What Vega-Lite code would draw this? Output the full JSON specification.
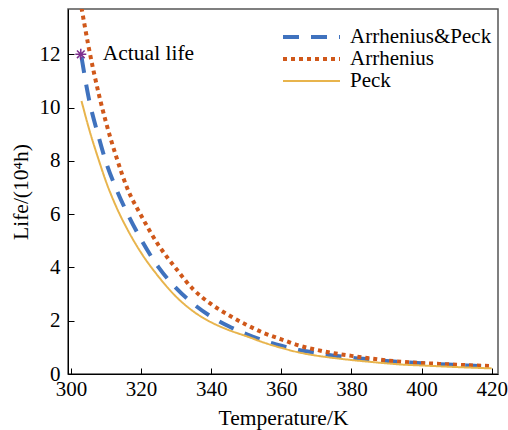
{
  "$schema": "https://vega.github.io/schema/vega-lite/v6.json",
  "autosize": "none",
  "width": 430,
  "height": 365,
  "padding": {"left": 68, "top": 9, "right": 10, "bottom": 56},
  "background": "white",
  "config": {
    "view": {"stroke": "#555555", "strokeWidth": 1.5},
    "axis": {
      "labelFont": "Liberation Serif", "labelFontSize": 21, "labelColor": "black",
      "titleFont": "Liberation Serif", "titleFontSize": 21.5, "titleFontWeight": "normal", "titleColor": "black",
      "domainColor": "black", "tickColor": "black", "grid": false, "tickSize": -6
    },
    "legend": {
      "labelFont": "Liberation Serif", "labelFontSize": 21, "labelColor": "black"
    }
  },
  "datasets": {
    "curves": [
      {"T": 303, "life": 11.9, "model": "Arrhenius&Peck"},
      {"T": 305, "life": 10.4, "model": "Arrhenius&Peck"},
      {"T": 308, "life": 8.85, "model": "Arrhenius&Peck"},
      {"T": 310, "life": 7.95, "model": "Arrhenius&Peck"},
      {"T": 313, "life": 6.92, "model": "Arrhenius&Peck"},
      {"T": 316, "life": 6.05, "model": "Arrhenius&Peck"},
      {"T": 320, "life": 5.05, "model": "Arrhenius&Peck"},
      {"T": 325, "life": 4.0, "model": "Arrhenius&Peck"},
      {"T": 330, "life": 3.22, "model": "Arrhenius&Peck"},
      {"T": 335, "life": 2.62, "model": "Arrhenius&Peck"},
      {"T": 340, "life": 2.15, "model": "Arrhenius&Peck"},
      {"T": 345, "life": 1.79, "model": "Arrhenius&Peck"},
      {"T": 350, "life": 1.5, "model": "Arrhenius&Peck"},
      {"T": 355, "life": 1.25, "model": "Arrhenius&Peck"},
      {"T": 360, "life": 1.06, "model": "Arrhenius&Peck"},
      {"T": 365, "life": 0.9, "model": "Arrhenius&Peck"},
      {"T": 370, "life": 0.79, "model": "Arrhenius&Peck"},
      {"T": 375, "life": 0.69, "model": "Arrhenius&Peck"},
      {"T": 380, "life": 0.61, "model": "Arrhenius&Peck"},
      {"T": 385, "life": 0.55, "model": "Arrhenius&Peck"},
      {"T": 390, "life": 0.49, "model": "Arrhenius&Peck"},
      {"T": 395, "life": 0.44, "model": "Arrhenius&Peck"},
      {"T": 400, "life": 0.4, "model": "Arrhenius&Peck"},
      {"T": 405, "life": 0.37, "model": "Arrhenius&Peck"},
      {"T": 410, "life": 0.34, "model": "Arrhenius&Peck"},
      {"T": 415, "life": 0.31, "model": "Arrhenius&Peck"},
      {"T": 420, "life": 0.28, "model": "Arrhenius&Peck"},
      {"T": 303, "life": 13.75, "model": "Arrhenius"},
      {"T": 305, "life": 12.3, "model": "Arrhenius"},
      {"T": 308, "life": 10.47, "model": "Arrhenius"},
      {"T": 310, "life": 9.44, "model": "Arrhenius"},
      {"T": 313, "life": 8.12, "model": "Arrhenius"},
      {"T": 316, "life": 6.99, "model": "Arrhenius"},
      {"T": 320, "life": 5.95, "model": "Arrhenius"},
      {"T": 325, "life": 4.83, "model": "Arrhenius"},
      {"T": 330, "life": 3.95, "model": "Arrhenius"},
      {"T": 335, "life": 3.16, "model": "Arrhenius"},
      {"T": 340, "life": 2.62, "model": "Arrhenius"},
      {"T": 345, "life": 2.21, "model": "Arrhenius"},
      {"T": 350, "life": 1.85, "model": "Arrhenius"},
      {"T": 355, "life": 1.54, "model": "Arrhenius"},
      {"T": 360, "life": 1.3, "model": "Arrhenius"},
      {"T": 365, "life": 1.07, "model": "Arrhenius"},
      {"T": 370, "life": 0.91, "model": "Arrhenius"},
      {"T": 375, "life": 0.78, "model": "Arrhenius"},
      {"T": 380, "life": 0.68, "model": "Arrhenius"},
      {"T": 385, "life": 0.59, "model": "Arrhenius"},
      {"T": 390, "life": 0.51, "model": "Arrhenius"},
      {"T": 395, "life": 0.45, "model": "Arrhenius"},
      {"T": 400, "life": 0.41, "model": "Arrhenius"},
      {"T": 405, "life": 0.38, "model": "Arrhenius"},
      {"T": 410, "life": 0.35, "model": "Arrhenius"},
      {"T": 415, "life": 0.32, "model": "Arrhenius"},
      {"T": 420, "life": 0.3, "model": "Arrhenius"},
      {"T": 303, "life": 10.25, "model": "Peck"},
      {"T": 305, "life": 9.27, "model": "Peck"},
      {"T": 308, "life": 8.0, "model": "Peck"},
      {"T": 310, "life": 7.22, "model": "Peck"},
      {"T": 313, "life": 6.25, "model": "Peck"},
      {"T": 316, "life": 5.45, "model": "Peck"},
      {"T": 320, "life": 4.55, "model": "Peck"},
      {"T": 325, "life": 3.65, "model": "Peck"},
      {"T": 330, "life": 2.9, "model": "Peck"},
      {"T": 335, "life": 2.34, "model": "Peck"},
      {"T": 340, "life": 1.94, "model": "Peck"},
      {"T": 345, "life": 1.65, "model": "Peck"},
      {"T": 350, "life": 1.42, "model": "Peck"},
      {"T": 355, "life": 1.18, "model": "Peck"},
      {"T": 360, "life": 0.98, "model": "Peck"},
      {"T": 365, "life": 0.81, "model": "Peck"},
      {"T": 370, "life": 0.69, "model": "Peck"},
      {"T": 375, "life": 0.6, "model": "Peck"},
      {"T": 380, "life": 0.525, "model": "Peck"},
      {"T": 385, "life": 0.46, "model": "Peck"},
      {"T": 390, "life": 0.4, "model": "Peck"},
      {"T": 395, "life": 0.35, "model": "Peck"},
      {"T": 400, "life": 0.32, "model": "Peck"},
      {"T": 405, "life": 0.29, "model": "Peck"},
      {"T": 410, "life": 0.26, "model": "Peck"},
      {"T": 415, "life": 0.235, "model": "Peck"},
      {"T": 420, "life": 0.21, "model": "Peck"}
    ],
    "actual": [
      {"T": 302.8, "life": 12, "label": "Actual life"}
    ]
  },
  "layer": [
    {
      "data": {"name": "curves"},
      "mark": {"type": "line", "clip": true, "interpolate": "monotone", "strokeCap": "butt"},
      "encoding": {
        "x": {
          "field": "T", "type": "quantitative",
          "scale": {"domain": [299.15, 421.8], "nice": false, "zero": false},
          "axis": {"title": "Temperature/K", "values": [300, 320, 340, 360, 380, 400, 420], "labelPadding": 10, "titlePadding": 8, "labelFlush": false}
        },
        "y": {
          "field": "life", "type": "quantitative",
          "scale": {"domain": [0, 13.7], "nice": false},
          "axis": {"title": "Life/(10⁴h)", "values": [0, 2, 4, 6, 8, 10, 12], "labelPadding": 14, "titlePadding": 7, "labelFlush": false}
        },
        "color": {
          "field": "model", "type": "nominal",
          "scale": {"domain": ["Arrhenius&Peck", "Arrhenius", "Peck"], "range": ["#3F72BE", "#D0581A", "#E8B44C"]},
          "legend": {"orient": "none", "legendX": 213, "legendY": 17, "title": null, "symbolType": "stroke", "symbolSize": 3249, "clipHeight": 22, "labelOffset": 8, "padding": 0, "rowPadding": 0}
        },
        "strokeDash": {
          "field": "model", "type": "nominal",
          "scale": {"domain": ["Arrhenius&Peck", "Arrhenius", "Peck"], "range": [[16, 12], [4, 4], [1, 0]]},
          "legend": null
        },
        "strokeWidth": {
          "field": "model", "type": "nominal",
          "scale": {"type": "ordinal", "domain": ["Arrhenius&Peck", "Arrhenius", "Peck"], "range": [4, 4, 2]},
          "legend": null
        }
      }
    },
    {
      "data": {"name": "actual"},
      "mark": {"type": "point", "shape": "M0,-1L0,1M-1,0L1,0M-0.7,-0.7L0.7,0.7M-0.7,0.7L0.7,-0.7", "filled": false, "stroke": "#7E2F8E", "strokeWidth": 1.5, "size": 120, "opacity": 1},
      "encoding": {
        "x": {"field": "T", "type": "quantitative"},
        "y": {"field": "life", "type": "quantitative"}
      }
    },
    {
      "data": {"name": "actual"},
      "mark": {"type": "text", "align": "left", "baseline": "middle", "dx": 22, "font": "Liberation Serif", "fontSize": 21.5, "color": "black"},
      "encoding": {
        "x": {"field": "T", "type": "quantitative"},
        "y": {"field": "life", "type": "quantitative"},
        "text": {"field": "label"}
      }
    }
  ]
}
